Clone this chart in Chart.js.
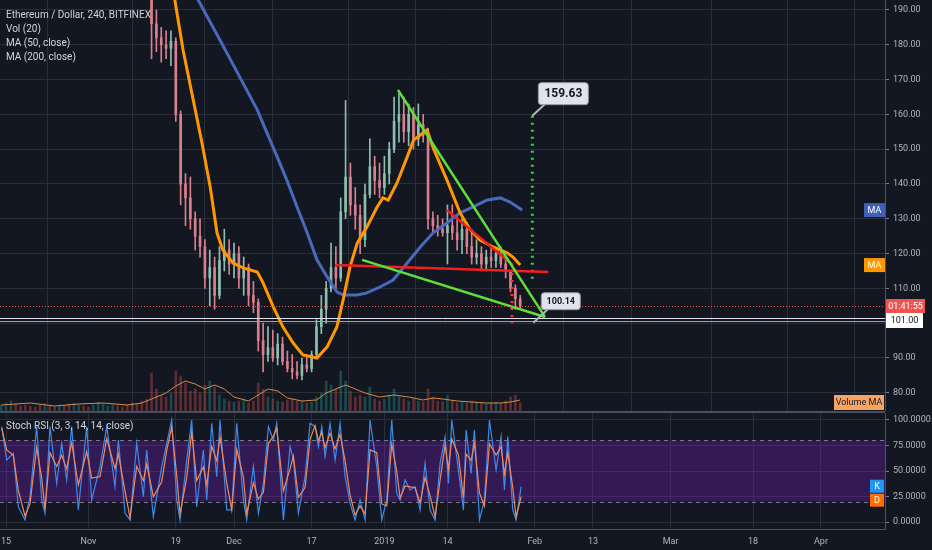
<!DOCTYPE html>
<html><head><meta charset="utf-8">
<script src="https://cdn.jsdelivr.net/npm/chart.js@4.4.1/dist/chart.umd.min.js"></script>
<style>
html,body{margin:0;padding:0;background:#131722;overflow:hidden}
#wrap{position:relative;width:932px;height:550px;background:#131722}
#c1{position:absolute;left:0;top:0}
#c2{position:absolute;left:0;top:411px}
</style></head><body>
<div id="wrap"><canvas id="c1" width="932" height="411"></canvas><canvas id="c2" width="932" height="139"></canvas></div>
<script>
// ---------- DATA (day 0 = 15 Oct 2018) ----------
const xTickDays   = [0, 17, 35, 47, 63, 78, 91, 109, 121, 137, 154, 168];
const xTickLabels = ['15','Nov','19','Dec','17','2019','14','Feb','13','Mar','18','Apr'];
const priceTicks  = [80, 90, 100, 110, 120, 130, 140, 150, 160, 170, 180, 190];
const stochTicks  = [0, 25, 50, 75, 100];

const candleFirstDay = -1;
const opens  = [200,203,207,211,209,207,205,204,203,202,204,203,201,202,200,199,201,203,201,200,202,206,209,212,215,213,211,209,207,205,203,
                199,186,182,180,179,181,160,140,136,130,125,122,113,116,108,118,121,117,120,113,116,108,106,95,91,93,90,94,89,87,86,85,88,87,91,99,104,110,116,113,132,142,134,131,124,137,145,141,139,143,150,158,160,155,160,153,157,154,130,128,127,126,128,126,124,127,122,119,120,117,119,118,120,117,115,110,107];
const highs  = [205,210,215,214,212,209,208,207,206,206,207,205,204,205,203,203,205,206,204,204,208,212,215,217,220,216,213,212,210,208,205,
                200,190,185,184,184,182,161,143,142,132,130,124,121,119,122,127,124,123,122,119,117,112,107,100,99,98,97,96,92,91,89,90,91,92,101,108,112,123,122,136,164,146,139,134,140,153,148,146,148,152,165,166,165,163,162,163,160,156,132,131,130,134,134,131,130,129,127,124,122,121,122,121,122,119,115,111,108];
const lows   = [196,200,204,207,205,203,201,200,200,199,201,199,198,199,197,197,198,200,198,198,200,204,206,209,211,209,207,205,203,200,196,
                176,178,175,176,174,158,134,128,127,121,119,110,105,104,107,115,114,113,110,108,105,103,92,86,89,89,88,88,86,84,84,83.7,86,86,90,97,100,109,110,112,130,131,127,120,122,136,137,136,137,140,149,152,152,151,150,151,152,127,126,125,125,117,124,121,120,120,117,117,115,115,116,116,116,113,109,104,104];
const closes = [203,207,211,209,207,205,204,203,202,204,203,201,202,200,199,201,203,201,200,202,206,209,212,215,213,211,209,207,205,203,199,
                186,182,180,179,181,160,140,136,130,125,122,113,116,108,118,121,117,120,113,116,108,106,95,91,93,90,94,89,87,86,85,88,87,91,99,104,110,116,113,132,142,134,131,124,137,145,141,139,143,150,158,160,155,160,153,157,154,130,128,127,126,128,126,124,127,122,119,120,117,119,118,120,117,115,110,107,105];
const volumes = [6,8,10,7,5,6,5,4,6,7,5,4,6,5,7,8,6,5,4,6,9,7,5,6,5,4,6,8,7,10,12,
                 38,22,15,14,18,40,35,28,20,22,18,26,30,
                 24,16,12,10,9,10,12,8,10,
                 28,22,14,12,10,9,11,12,10,
                 10,8,9,14,18,30,26,22,40,30,20,14,
                 16,14,24,12,10,12,16,22,14,12,10,12,10,9,
                 22,14,10,9,16,10,8,9,8,10,9,8,7,8,9,8,10,14,16,8];
const volMaDays = [-1,5,10,15,20,25,28,30,33,35,37,39,41,43,45,47,50,52,54,56,58,61,64,66,68,70,72,74,77,80,83,86,88,90,93,96,99,102,104,106];
const volMaVals = [6,8,5,7,8,6,8,12,18,25,30,27,22,26,22,14,10,16,22,20,13,10,11,18,22,26,22,18,14,16,14,11,13,12,10,9,8,8,9,11];

const ma50Days = [33,34.8,36.5,38.6,40.4,42.1,43.5,44.7,46.8,48.9,51.8,53.0,55.1,57.1,59.2,61.2,64.1,66.2,68.2,69.5,70.9,72.4,74.4,76.5,77.7,78.8,80.6,82.7,84.0,86.8,88.0,90.9,93.6,95.7,97.7,100.4,103.3,104.5,106.0];
const ma50Vals = [200,192.9,178.5,164.1,151.8,139.1,125.9,121.0,117.3,115.9,114.7,111.6,104.7,98.9,94.3,90.9,90.0,93.2,98.9,106.7,116.1,123.0,127.6,133.4,136.0,135.4,140.3,147.8,152.6,155.5,150.6,141.1,131.7,126.8,123.9,121.9,120.2,119.0,116.7];
const ma200Days = [38,39.6,44.1,48.2,51.8,53.8,55.9,57.9,60.0,62.1,64.1,66.2,68.2,69.5,72.4,74.4,77.1,79.8,82.7,85.4,88.0,90.9,93.6,96.3,99.2,101.9,103.9,106.4];
const ma200Vals = [198,192.9,181.4,170.7,161.3,154.7,147.8,141.1,133.4,125.9,118.2,113.3,109.0,108.1,108.1,108.7,110.4,112.4,117.3,121.9,125.9,128.8,131.7,133.4,135.4,136.0,134.8,132.5];

const stochDays = [-0.89,0.14,1.51,2.54,3.92,4.95,6.32,7.35,8.04,9.07,10.45,11.48,12.51,13.54,14.91,16.63,17.66,19.38,20.76,22.47,23.16,24.54,25.57,26.94,28.32,29.0,30.37,32.1,33.13,34.16,35.2,35.88,37.25,38.28,39.31,40.68,41.37,42.41,43.44,44.12,45.5,46.53,47.56,48.93,49.62,50.99,52.03,53.06,54.09,55.12,55.81,57.18,58.56,59.24,60.27,61.65,62.68,63.71,64.4,65.09,65.77,66.8,67.84,68.87,69.9,70.93,71.96,72.99,74.02,75.05,76.43,77.46,78.49,79.52,80.55,81.24,82.27,83.3,84.33,85.36,86.39,87.42,88.45,89.48,90.52,91.2,91.89,93.26,94.29,94.85,95.88,96.56,97.6,98.62,99.66,101.03,102.06,102.75,103.44,104.47,105.15,106.19];
const stochK = [93.5,60.8,67.3,15.0,2.0,24.8,93.5,21.6,8.5,93.5,37.9,77.1,41.2,93.5,11.8,93.5,21.6,54.2,93.5,34.6,80.4,8.5,2.0,77.1,24.8,70.6,5.2,54.2,77.1,100,21.6,2.0,60.8,100,15.0,70.6,21.6,96.7,44.4,100,11.8,11.8,96.7,21.6,2.0,54.2,8.5,37.9,93.5,80.4,96.7,2.0,73.9,60.8,8.5,44.4,96.7,93.5,73.9,93.5,64.1,96.7,60.8,96.7,44.4,18.3,2.0,21.6,2.0,100,54.2,2.0,21.6,100,28.1,21.6,41.2,31.4,34.6,11.8,57.5,11.8,2.0,57.5,83.7,37.9,100,51.0,11.8,90.2,47.7,90.2,2.0,21.6,100,51.0,83.7,31.4,83.7,11.8,2.0,34.6];
const stochD = [92,70.6,65.3,30.7,5.9,18,72.9,43.1,12.5,68,54.5,65.4,52,77.8,36.3,69,43.1,44.4,81.8,52.2,66.7,30.1,4,54.6,40.5,56.8,24.8,39.5,70.3,93.1,45.1,7.9,43.2,88.2,40.5,53.9,36.3,74.2,60.1,83.3,38.3,11.8,71.2,44.1,7.9,38.5,22.3,29.1,76.9,84.3,91.8,30.4,52.3,64.8,24.2,33.7,81,94.5,79.7,87.7,72.9,86.9,71.6,85.9,60.1,26.1,6.9,15.7,7.9,70.6,67.9,17.7,15.7,76.5,49.7,23.5,35.3,34.4,33.6,18.7,43.8,25.6,4.9,40.9,75.9,51.6,81.4,65.7,23.6,66.6,60.5,77.4,28.5,15.7,76.5,65.7,73.9,47.1,68,33.4,4.9,24.8];

const upperWedgeDays = [80.8, 111.1],  upperWedgeVals = [167.0, 101.8];
const lowerWedgeDays = [73.4, 111.1],  lowerWedgeVals = [118.2, 101.8];
const redFlatDays    = [67.8, 111.8],  redFlatVals    = [116.7, 114.7];
const redDiagDays    = [90.9, 104.5],  redDiagVals    = [132.5, 116.7];
const greenDotDays   = [108.5, 108.5], greenDotVals   = [159.63, 111.6];
const redDotDays     = [104.3, 104.3], redDotVals     = [114.4, 100.1];
const targetDay = 108.5, targetValue = 159.63;
const lowMarkDay = 108.7, lowMarkValue = 100.14;
const hLineValue = 101.00;
const countdownText = '01:41:55';

// ---------- helpers ----------
const X_MIN = -1.24, X_MAX = 181.2;
const GRID = '#2a2e39', AXIS_TXT = '#b2b5be', FONT = 'Roboto, "Liberation Sans", sans-serif';
const UP = '#8cbfae', DOWN = '#d97f8d';
const pts = (xs, ys) => xs.map((x, i) => ({x, y: ys[i]}));
const days = opens.map((_, i) => candleFirstDay + i);
const up = days.map((_, i) => closes[i] >= opens[i]);
const lineDs = (data, color, width, order, dash) => ({type:'line', data, borderColor:color, borderWidth:width, pointRadius:0, tension:0, order, borderDash: dash || [], yAxisID:'y', clip:false});

function box(ctx, x, y, w, h, fill, text, color, font) {
  ctx.fillStyle = fill; ctx.fillRect(x, y, w, h);
  ctx.fillStyle = color; ctx.font = font; ctx.textAlign = 'center'; ctx.textBaseline = 'middle';
  ctx.fillText(text, x + w / 2, y + h / 2 + 0.5);
}
function rrect(ctx, x, y, w, h, r) {
  ctx.beginPath(); ctx.moveTo(x + r, y); ctx.lineTo(x + w - r, y); ctx.quadraticCurveTo(x + w, y, x + w, y + r);
  ctx.lineTo(x + w, y + h - r); ctx.quadraticCurveTo(x + w, y + h, x + w - r, y + h); ctx.lineTo(x + r, y + h);
  ctx.quadraticCurveTo(x, y + h, x, y + h - r); ctx.lineTo(x, y + r); ctx.quadraticCurveTo(x, y, x + r, y); ctx.closePath();
}
function callout(ctx, text, px, py, bx, by, bw, bh, font) {
  ctx.strokeStyle = '#b2b5be'; ctx.lineWidth = 2; ctx.setLineDash([]);
  ctx.beginPath(); ctx.moveTo(bx + 7, by + bh - 1); ctx.lineTo(px, py); ctx.stroke();
  rrect(ctx, bx, by, bw, bh, 3); ctx.fillStyle = '#e0e3eb'; ctx.fill();
  ctx.lineWidth = 1; ctx.strokeStyle = '#9598a1'; ctx.stroke();
  ctx.fillStyle = '#131722'; ctx.font = font; ctx.textAlign = 'center'; ctx.textBaseline = 'middle';
  ctx.fillText(text, bx + bw / 2, by + bh / 2 + 0.5);
}
const fixTicks = vals => scale => { scale.ticks = vals.map(v => ({value: v})); };
const fitY = s => { s.width = 47; s.paddingTop = 0; s.paddingBottom = 0; };
const fitX = h => s => { s.height = h; s.paddingLeft = 0; s.paddingRight = 0; };

// ---------- main price pane ----------
const overlayMain = {
  id: 'overlayMain',
  afterDatasetsDraw(chart) {
    const ctx = chart.ctx, ys = chart.scales.y, xs = chart.scales.x, ca = chart.chartArea;
    ctx.save();
    const py = Math.round(ys.getPixelForValue(closes[closes.length - 1])) + 0.5;
    ctx.strokeStyle = '#ef5350'; ctx.lineWidth = 1; ctx.setLineDash([1, 2]);
    ctx.beginPath(); ctx.moveTo(ca.left, py); ctx.lineTo(ca.right, py); ctx.stroke();
    ctx.setLineDash([]);
    const hy = Math.round(ys.getPixelForValue(hLineValue));
    ctx.strokeStyle = '#e0e3eb'; ctx.beginPath(); ctx.moveTo(ca.left, hy - 1.5); ctx.lineTo(ca.right, hy - 1.5); ctx.stroke();
    ctx.strokeStyle = '#a3a6af'; ctx.beginPath(); ctx.moveTo(ca.left, hy + 1.5); ctx.lineTo(ca.right, hy + 1.5); ctx.stroke();
    const tx = xs.getPixelForValue(targetDay), ty = ys.getPixelForValue(targetValue);
    callout(ctx, targetValue.toFixed(2), tx, ty, tx + 6, ty - 33, 50, 22, 'bold 12px ' + FONT);
    const lx = xs.getPixelForValue(lowMarkDay), ly = ys.getPixelForValue(lowMarkValue);
    callout(ctx, lowMarkValue.toFixed(2), lx, ly, lx + 8, ly - 30, 39, 17, 'bold 9px ' + FONT);
    ctx.fillStyle = '#d1d4dc'; ctx.font = '10px ' + FONT; ctx.textAlign = 'left'; ctx.textBaseline = 'middle';
    ['Ethereum / Dollar, 240, BITFINEX', 'Vol (20)', 'MA (50, close)', 'MA (200, close)'].forEach((t, i) => ctx.fillText(t, 6, 15 + i * 14));
    const ax = ca.right;
    const m200y = ys.getPixelForValue(ma200Vals[ma200Vals.length - 1]);
    box(ctx, ax - 21, m200y - 7, 21, 14, '#3f5fb8', 'MA', '#ffffff', '9px ' + FONT);
    const m50y = ys.getPixelForValue(ma50Vals[ma50Vals.length - 1]);
    box(ctx, ax - 21, m50y - 7, 21, 14, '#ff9800', 'MA', '#ffffff', '9px ' + FONT);
    box(ctx, ax + 1, py - 7.5, 39, 14, '#ef5350', countdownText, '#ffffff', '9px ' + FONT);
    box(ctx, ax + 1, hy - 7, 37, 15, '#ffffff', hLineValue.toFixed(2), '#131722', '9px ' + FONT);
    box(ctx, ax - 51, ca.bottom - 16, 50, 15, '#f7a463', 'Volume MA', '#131722', '9px ' + FONT);
    ctx.restore();
  }
};

new Chart(document.getElementById('c1'), {
  type: 'bar',
  data: {
    datasets: [
      lineDs(pts(upperWedgeDays, upperWedgeVals), '#5ee03a', 2.5, 1),
      lineDs(pts(lowerWedgeDays, lowerWedgeVals), '#5ee03a', 2.5, 1),
      lineDs(pts(redFlatDays, redFlatVals), '#f21f1f', 2.5, 1),
      lineDs(pts(redDiagDays, redDiagVals), '#f21f1f', 2.5, 1),
      lineDs(pts(greenDotDays, greenDotVals), '#22dd33', 3, 1, [2, 5]),
      lineDs(pts(redDotDays, redDotVals), '#ff3333', 3, 1, [2, 5]),
      lineDs(pts(ma50Days, ma50Vals), '#ff9800', 3, 3),
      lineDs(pts(ma200Days, ma200Vals), '#4a69bd', 3, 4),
      {type:'line', data: pts(volMaDays, volMaVals), borderColor:'#d98a47', borderWidth:1, pointRadius:0, yAxisID:'yv', order:6},
      {type:'bar', data: days.map((d, i) => ({x: d, y: [opens[i], closes[i]]})), backgroundColor: up.map(u => u ? UP : DOWN), barThickness: 2, grouped:false, yAxisID:'y', order:7},
      {type:'bar', data: days.map((d, i) => ({x: d, y: [lows[i], highs[i]]})), backgroundColor: up.map(u => u ? UP : DOWN), barThickness: 1, grouped:false, yAxisID:'y', order:8},
      {type:'bar', data: days.map((d, i) => ({x: d, y: volumes[i]})), backgroundColor: up.map(u => u ? 'rgba(38,166,154,0.35)' : 'rgba(239,83,80,0.35)'), barThickness: 2, grouped:false, yAxisID:'yv', order:9}
    ]
  },
  options: {
    responsive:false, devicePixelRatio:1, animation:false, events:[],
    layout:{padding:0, autoPadding:false},
    plugins:{legend:{display:false}, tooltip:{enabled:false}},
    scales:{
      x:{type:'linear', min:X_MIN, max:X_MAX, offset:false, afterBuildTicks: fixTicks(xTickDays),
         ticks:{display:false}, grid:{color:GRID, drawTicks:false}, border:{display:false},
         afterFit: fitX(0)},
      y:{position:'right', min:74.77, max:192.87, afterBuildTicks: fixTicks(priceTicks),
         ticks:{color:AXIS_TXT, font:{family:FONT, size:9}, padding:4, callback: v => Number(v).toFixed(2)},
         grid:{color:GRID, tickLength:4, tickColor:'#787b86'}, border:{display:true, color:'#50535e'},
         afterFit: fitY},
      yv:{display:false, min:0, max:411}
    }
  },
  plugins:[overlayMain]
});

// ---------- Stoch RSI pane ----------
const overlayStoch = {
  id: 'overlayStoch',
  beforeDatasetsDraw(chart) {
    const ctx = chart.ctx, ys = chart.scales.y, ca = chart.chartArea;
    ctx.save();
    const y80 = ys.getPixelForValue(80), y20 = ys.getPixelForValue(20);
    ctx.fillStyle = 'rgba(126,34,206,0.30)';
    ctx.fillRect(ca.left, y80, ca.right - ca.left, y20 - y80);
    ctx.strokeStyle = '#787b86'; ctx.lineWidth = 1; ctx.setLineDash([4, 4]);
    [y80, y20].forEach(y => { ctx.beginPath(); ctx.moveTo(ca.left, Math.round(y) + 0.5); ctx.lineTo(ca.right, Math.round(y) + 0.5); ctx.stroke(); });
    ctx.restore();
  },
  afterDraw(chart) {
    const ctx = chart.ctx, ys = chart.scales.y, ca = chart.chartArea;
    ctx.save();
    ctx.fillStyle = '#4a4e5a'; ctx.fillRect(0, 0, ca.right, 2);
    ctx.fillStyle = '#d1d4dc'; ctx.font = '10px ' + FONT; ctx.textAlign = 'left'; ctx.textBaseline = 'middle';
    ctx.fillText('Stoch RSI (3, 3, 14, 14, close)', 6, 15);
    const ky = ys.getPixelForValue(stochK[stochK.length - 1]);
    box(ctx, ca.right - 15, ky - 7, 14, 13, '#2196f3', 'K', '#ffffff', '9px ' + FONT);
    box(ctx, ca.right - 15, ky + 7, 14, 13, '#ff6d00', 'D', '#ffffff', '9px ' + FONT);
    ctx.restore();
  }
};

new Chart(document.getElementById('c2'), {
  type: 'line',
  data: {
    datasets: [
      {data: pts(stochDays, stochD), borderColor:'#ee8a5e', borderWidth:1.2, pointRadius:0, order:1},
      {data: pts(stochDays, stochK), borderColor:'#3d8be8', borderWidth:1.2, pointRadius:0, order:2}
    ]
  },
  options: {
    responsive:false, devicePixelRatio:1, animation:false, events:[],
    layout:{padding:{top:2, left:0, right:0, bottom:0}, autoPadding:false},
    plugins:{legend:{display:false}, tooltip:{enabled:false}},
    scales:{
      x:{type:'linear', min:X_MIN, max:X_MAX, afterBuildTicks: fixTicks(xTickDays),
         ticks:{color:AXIS_TXT, font:{family:FONT, size:9}, padding:7, autoSkip:false, maxRotation:0,
                callback: v => xTickLabels[xTickDays.indexOf(v)]},
         grid:{color:GRID, drawTicks:false}, border:{display:true, color:'#50535e'},
         afterFit: fitX(21)},
      y:{position:'right', min:-6.86, max:106.86, afterBuildTicks: fixTicks(stochTicks),
         ticks:{color:AXIS_TXT, font:{family:FONT, size:9}, padding:4, callback: v => Number(v).toFixed(4)},
         grid:{color:GRID, tickLength:4, tickColor:'#787b86'}, border:{display:true, color:'#50535e'},
         afterFit: fitY}
    }
  },
  plugins:[overlayStoch]
});
</script>
</body></html>
